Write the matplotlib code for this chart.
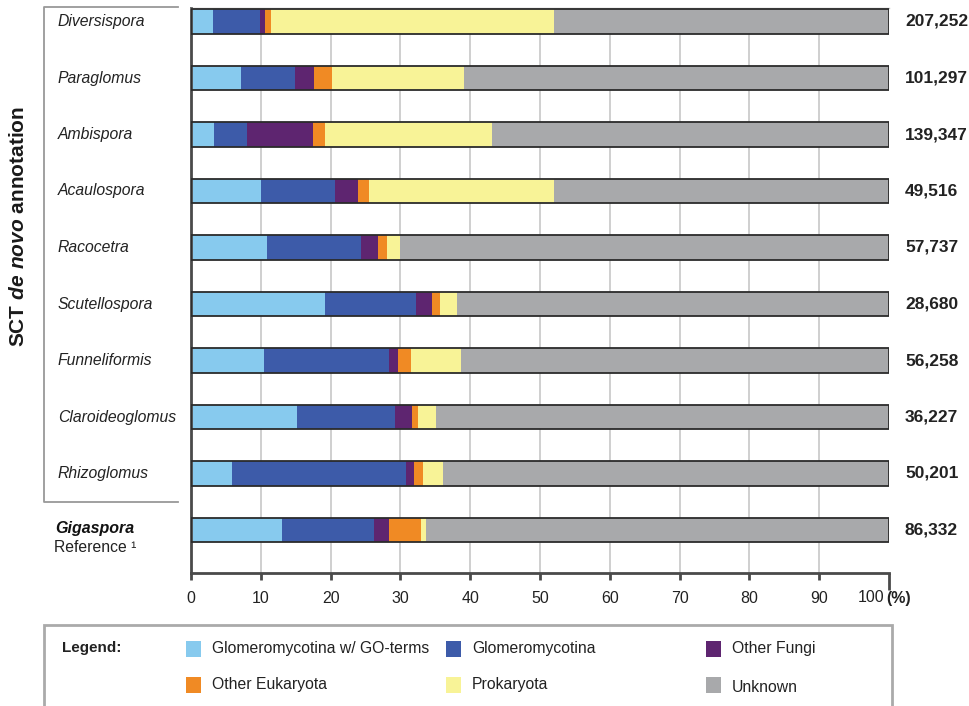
import matplotlib
matplotlib.use('Agg')
import matplotlib.pyplot as plt
from matplotlib.patches import Rectangle
from matplotlib.lines import Line2D
import numpy as np

plt.rcParams['font.family'] = ['Liberation Sans', 'DejaVu Sans']
plt.rcParams['mathtext.fontset'] = 'custom'
plt.rcParams['mathtext.it'] = 'Liberation Sans:italic:bold'
plt.rcParams['mathtext.rm'] = 'Liberation Sans:bold'

# ---------------- data ----------------
genera = ['Diversispora', 'Paraglomus', 'Ambispora', 'Acaulospora', 'Racocetra',
          'Scutellospora', 'Funneliformis', 'Claroideoglomus', 'Rhizoglomus', 'Gigaspora']
counts = ['207,252', '101,297', '139,347', '49,516', '57,737',
          '28,680', '56,258', '36,227', '50,201', '86,332']

glomero_go = [3.2, 7.2, 3.3, 10.0, 10.9, 19.2, 10.5, 15.2, 5.9, 13.0]
glomero = [6.7, 7.7, 4.7, 10.6, 13.5, 13.0, 17.9, 14.0, 24.9, 13.2]
other_fungi = [0.7, 2.7, 9.5, 3.3, 2.4, 2.3, 1.3, 2.5, 1.1, 2.2]
other_euk = [0.9, 2.6, 1.7, 1.6, 1.3, 1.2, 1.8, 0.8, 1.3, 4.5]
prokaryota = [40.5, 18.9, 23.9, 26.5, 1.8, 2.4, 7.2, 2.6, 2.9, 0.8]
unknown = [48.0, 60.9, 56.9, 48.0, 70.1, 61.9, 61.3, 64.9, 63.9, 66.3]

series_names = ['Glomeromycotina w/ GO-terms', 'Glomeromycotina', 'Other Fungi',
                'Other Eukaryota', 'Prokaryota', 'Unknown']
series_vals = [glomero_go, glomero, other_fungi, other_euk, prokaryota, unknown]
colors = ['#87CAEE', '#3D5BA9', '#5E2570', '#F08A24', '#F8F397', '#A8A9AB']

xticks = [0, 10, 20, 30, 40, 50, 60, 70, 80, 90, 100]
xticklabels = ['0', '10', '20', '30', '40', '50', '60', '70', '80', '90', '100']

# ---------------- figure ----------------
W, H = 970, 706
fig = plt.figure(figsize=(9.7, 7.06), dpi=100)


def fx(x):
    return x / W


def fy(y):
    return 1 - y / H


ax = fig.add_axes([fx(191), fy(573), fx(889) - fx(191), fy(8) - fy(573)])
ypos = np.arange(len(genera))
left = np.zeros(len(genera))
for vals, col in zip(series_vals, colors):
    v = np.array(vals)
    ax.barh(ypos, v, left=left, height=0.44, color=col, edgecolor='none', zorder=2)
    left = left + v
ax.barh(ypos, left, height=0.44, fill=False, edgecolor='#2b2b2b', linewidth=1.3, zorder=3)

for t in xticks[1:-1]:
    ax.axvline(t, color='#cccccc', lw=1.3, zorder=0)

ax.set_xlim(0, 100)
ax.set_ylim(9.76, -0.24)
ax.set_yticks([])
ax.set_xticks(xticks)
ax.set_xticklabels(xticklabels[:-1] + [''])
ax.tick_params(axis='x', direction='out', length=5, width=2, color='#4a4a4a',
               labelsize=11.5, pad=8, labelcolor='#222222')
ax.xaxis.get_major_ticks()[-1].tick1line.set_markersize(12)
for s in ['left', 'bottom']:
    ax.spines[s].set_color('#4a4a4a')
    ax.spines[s].set_linewidth(2)
ax.spines['right'].set_visible(False)
ax.spines['top'].set_color('#bbbbbb')
ax.spines['top'].set_linewidth(1)

# last tick label + unit
fig.text(fx(884), fy(598), xticklabels[-1], fontsize=11.5, va='center',
         ha='right', color='#222222')
fig.text(fx(886), fy(598), '(%)', fontweight='bold', fontsize=11.5, va='center',
         ha='left', color='#222222')

# bar centers in pixel space
def ycen(i):
    return 21.5 + 56.5 * i

# left labels
for i, g in enumerate(genera[:-1]):
    fig.text(fx(58), fy(ycen(i)), g, fontstyle='italic', fontsize=11.3,
             va='center', ha='left', color='#222222')
fig.text(fx(95), fy(528), genera[-1], fontstyle='italic', fontweight='bold',
         fontsize=11.5, va='center', ha='center', color='#111111')
fig.text(fx(95), fy(548), 'Reference \u00b9', fontsize=11.3, va='center',
         ha='center', color='#222222')

# bracket around SCT genera
fig.add_artist(Line2D([fx(178), fx(44), fx(44), fx(178)], [fy(7), fy(7), fy(502), fy(502)],
                      transform=fig.transFigure, color='#999999', lw=1.3))

fig.text(fx(19), fy(226), r'SCT $de\ novo$ annotation', rotation=90, ha='center',
         va='center', fontsize=15, fontweight='bold', color='#1a1a1a')

# right numbers
for i, c in enumerate(counts):
    fig.text(fx(905), fy(ycen(i)), c, fontweight='bold', fontsize=12.5,
             va='center', ha='left', color='#222222')

# legend box
fig.add_artist(Rectangle((fx(44), fy(720)), fx(892) - fx(44), fy(625) - fy(720),
                         transform=fig.transFigure, fill=False, edgecolor='#aaaaaa',
                         lw=2, clip_on=False))
fig.text(fx(62), fy(648), 'Legend:', fontweight='bold', fontsize=11, va='center',
         ha='left', color='#222222')
leg_x = [186, 446, 706]
leg_y = [649, 685]
for k, (name, col) in enumerate(zip(series_names, colors)):
    r, cidx = divmod(k, 3)
    x0, y0 = leg_x[cidx], leg_y[r]
    fig.add_artist(Rectangle((fx(x0), fy(y0 + 8)), fx(15), 16 / H,
                             transform=fig.transFigure, facecolor=col, edgecolor='none'))
    fig.text(fx(x0 + 26), fy(y0 + (2 if name == 'Unknown' else 0)), name, fontsize=11.3,
             va='center', ha='left', color='#222222')

fig.savefig('out.png', dpi=100, facecolor='white')
